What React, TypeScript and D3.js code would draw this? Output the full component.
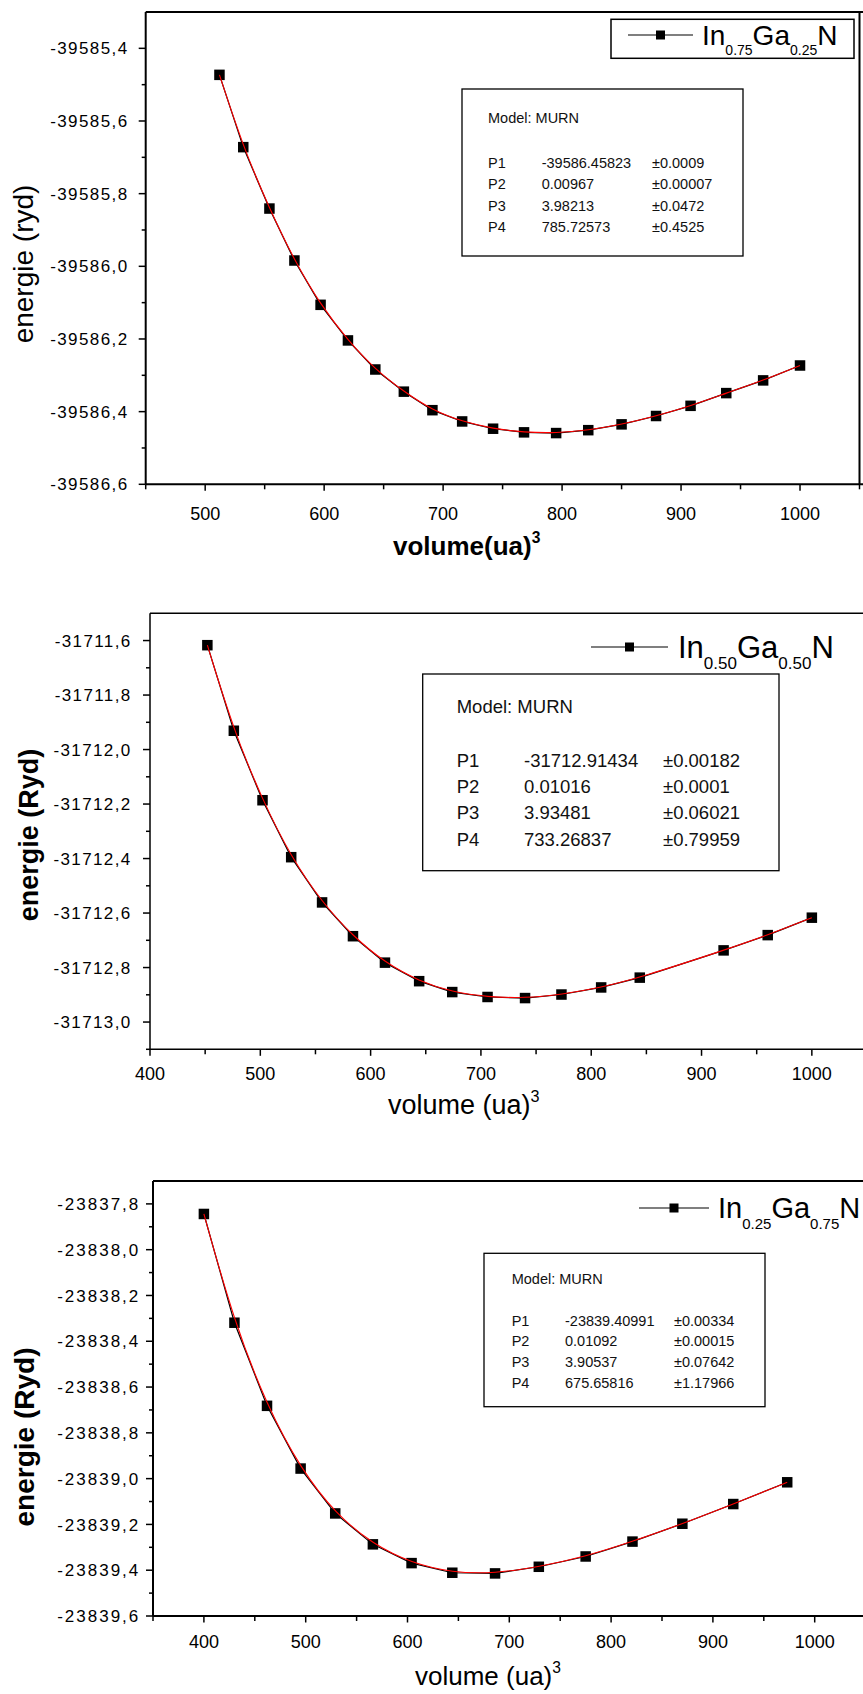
import React from "react";
import * as d3 from "d3";

// ---------- data ----------
const vol075 = [512, 532, 554, 575, 597, 620, 643, 667, 691, 716, 742, 768, 795, 822, 850, 879, 908, 938, 969, 1000];
const en075 = [-39585.473, -39585.672, -39585.841, -39585.984, -39586.106, -39586.204, -39586.284, -39586.345, -39586.396, -39586.427, -39586.447, -39586.457, -39586.459, -39586.451, -39586.435, -39586.412, -39586.384, -39586.349, -39586.314, -39586.273];

const vol050 = [452, 476, 502, 528, 556, 584, 613, 644, 674, 706, 740, 773, 809, 844, 920, 960, 1000];
const en050 = [-31711.617, -31711.931, -31712.186, -31712.395, -31712.561, -31712.685, -31712.782, -31712.850, -31712.890, -31712.908, -31712.912, -31712.899, -31712.873, -31712.837, -31712.737, -31712.681, -31712.617];

const vol025 = [400, 430, 462, 495, 529, 566, 604, 644, 686, 729, 775, 821, 870, 920, 973];
const en025 = [-23837.844, -23838.319, -23838.682, -23838.956, -23839.152, -23839.287, -23839.369, -23839.411, -23839.414, -23839.385, -23839.340, -23839.275, -23839.197, -23839.111, -23839.016];

const xTicks1 = [500, 600, 700, 800, 900, 1000];
const xMinor1 = [450, 550, 650, 750, 850, 950, 1050];
const yTicks1 = [-39586.6, -39586.4, -39586.2, -39586.0, -39585.8, -39585.6, -39585.4];
const yMinor1 = [-39586.5, -39586.3, -39586.1, -39585.9, -39585.7, -39585.5];

const xTicks2 = [400, 500, 600, 700, 800, 900, 1000];
const xMinor2 = [450, 550, 650, 750, 850, 950, 1050];
const yTicks2 = [-31713.0, -31712.8, -31712.6, -31712.4, -31712.2, -31712.0, -31711.8, -31711.6];
const yMinor2 = [-31713.1, -31712.9, -31712.7, -31712.5, -31712.3, -31712.1, -31711.9, -31711.7];

const xTicks3 = [400, 500, 600, 700, 800, 900, 1000];
const xMinor3 = [350, 450, 550, 650, 750, 850, 950, 1050];
const yTicks3 = [-23839.6, -23839.4, -23839.2, -23839.0, -23838.8, -23838.6, -23838.4, -23838.2, -23838.0, -23837.8];
const yMinor3 = [-23839.5, -23839.3, -23839.1, -23838.9, -23838.7, -23838.5, -23838.3, -23838.1, -23837.9];

const params075 = [
  ["P1", "-39586.45823", "\u00b10.0009"],
  ["P2", "0.00967", "\u00b10.00007"],
  ["P3", "3.98213", "\u00b10.0472"],
  ["P4", "785.72573", "\u00b10.4525"],
];
const params050 = [
  ["P1", "-31712.91434", "\u00b10.00182"],
  ["P2", "0.01016", "\u00b10.0001"],
  ["P3", "3.93481", "\u00b10.06021"],
  ["P4", "733.26837", "\u00b10.79959"],
];
const params025 = [
  ["P1", "-23839.40991", "\u00b10.00334"],
  ["P2", "0.01092", "\u00b10.00015"],
  ["P3", "3.90537", "\u00b10.07642"],
  ["P4", "675.65816", "\u00b11.17966"],
];

const legendSubs075 = ["0.75", "0.25"];
const legendSubs050 = ["0.50", "0.50"];
const legendSubs025 = ["0.25", "0.75"];

// ---------- layout ----------
const FONT = "'Liberation Sans', Arial, Helvetica, sans-serif";
const locale = d3.formatLocale({ decimal: ",", thousands: "", grouping: [3], currency: ["", ""], minus: "-" });
const yFmt = locale.format(".1f");

const panels = [
  {
    xs: vol075, ys: en075,
    xDomain: [450, 1050], xRange: [145.7, 859.5],
    yDomain: [-39586.6, -39585.3], yRange: [484.3, 12],
    xTicks: xTicks1, xMinor: xMinor1, yTicks: yTicks1, yMinor: yMinor1,
    axisW: 2, rightBorder: true,
    yLabelRight: 128.5, yLabelSize: 17, yLabelSpacing: 1.4,
    xLabelOffset: 35.7, xLabelSize: 18,
    yTitle: "energie (ryd)", yTitleBold: false, yTitleX: 33, yTitleY: 264, yTitleSize: 28,
    xTitle: "volume(ua)", xTitleBold: true, xTitleX: 393, xTitleY: 555, xTitleSize: 26,
    legend: { box: [611, 19.3, 243, 39], lineX: [628, 693], y: 35, textX: 702, subs: legendSubs075, main: 28, sub: 14, drop: 10 },
    model: { box: [462, 89, 281, 167], cols: [488, 541.7, 652], modelY: 123, rows: [168, 189.3, 211, 232.3], size: 14.5 },
    params: params075,
  },
  {
    xs: vol050, ys: en050,
    xDomain: [400, 1050], xRange: [150, 867],
    yDomain: [-31713.1, -31711.5], yRange: [1049.3, 613.3],
    xTicks: xTicks2, xMinor: xMinor2, yTicks: yTicks2, yMinor: yMinor2,
    axisW: 1.5, rightBorder: false,
    yLabelRight: 131.7, yLabelSize: 17, yLabelSpacing: 1.4,
    xLabelOffset: 30.7, xLabelSize: 18,
    yTitle: "energie (Ryd)", yTitleBold: true, yTitleX: 38, yTitleY: 835, yTitleSize: 27,
    xTitle: "volume (ua)", xTitleBold: false, xTitleX: 388, xTitleY: 1114, xTitleSize: 27,
    legend: { box: null, lineX: [591, 668], y: 647, textX: 678, subs: legendSubs050, main: 31, sub: 17, drop: 11 },
    model: { box: [422.7, 674, 356.3, 196.7], cols: [456.7, 524, 663], modelY: 713, rows: [767, 793, 819, 846], size: 18.5 },
    params: params050,
  },
  {
    xs: vol025, ys: en025,
    xDomain: [350, 1050], xRange: [153, 865.6],
    yDomain: [-23839.6, -23837.7], yRange: [1616, 1181],
    xTicks: xTicks3, xMinor: xMinor3, yTicks: yTicks3, yMinor: yMinor3,
    axisW: 2, rightBorder: false,
    yLabelRight: 140.3, yLabelSize: 17, yLabelSpacing: 2,
    xLabelOffset: 32, xLabelSize: 18,
    yTitle: "energie (Ryd)", yTitleBold: true, yTitleX: 34, yTitleY: 1437, yTitleSize: 28,
    xTitle: "volume (ua)", xTitleBold: false, xTitleX: 415, xTitleY: 1685, xTitleSize: 26,
    legend: { box: null, lineX: [639, 709], y: 1208, textX: 718, subs: legendSubs025, main: 29, sub: 15, drop: 11 },
    model: { box: [484, 1253.3, 281, 153.4], cols: [511.7, 565, 674], modelY: 1284, rows: [1325.7, 1346.3, 1367, 1387.7], size: 14.5 },
    params: params025,
  },
];

function Panel({ p }: { p: any }) {
  const x = d3.scaleLinear().domain(p.xDomain).range(p.xRange);
  const y = d3.scaleLinear().domain(p.yDomain).range(p.yRange);
  const pts: [number, number][] = p.xs.map((v: number, i: number) => [v, p.ys[i]]);
  const line = d3.line<[number, number]>().x((d) => x(d[0])).y((d) => y(d[1]));
  const fit = d3.line<[number, number]>().curve(d3.curveBasis).x((d) => x(d[0])).y((d) => y(d[1]));
  const [x0, x1] = p.xRange;
  const [yb, yt] = p.yRange;
  const ms = 10.5;
  const lg = p.legend;
  const md = p.model;
  return (
    <g fontFamily={FONT}>
      {/* frame */}
      <line x1={x0} x2={x1 + 5} y1={yt} y2={yt} stroke="#000" strokeWidth={p.axisW} />
      {p.rightBorder && <line x1={x1} x2={x1} y1={yt} y2={yb} stroke="#000" strokeWidth={p.axisW} />}
      <line x1={x0} x2={x0} y1={yt} y2={yb} stroke="#000" strokeWidth={p.axisW} />
      <line x1={x0} x2={x1 + 5} y1={yb} y2={yb} stroke="#000" strokeWidth={p.axisW} />
      {/* y ticks */}
      {p.yTicks.map((t: number) => (
        <g key={"yt" + t}>
          <line x1={x0 - 7} x2={x0} y1={y(t)} y2={y(t)} stroke="#000" strokeWidth={1.5} />
          <text x={p.yLabelRight} y={y(t)} dy="0.36em" textAnchor="end" fontSize={p.yLabelSize} letterSpacing={p.yLabelSpacing}>
            {yFmt(t)}
          </text>
        </g>
      ))}
      {p.yMinor.map((t: number) => (
        <line key={"ym" + t} x1={x0 - 4} x2={x0} y1={y(t)} y2={y(t)} stroke="#000" strokeWidth={1.5} />
      ))}
      {/* x ticks */}
      {p.xTicks.map((t: number) => (
        <g key={"xt" + t}>
          <line x1={x(t)} x2={x(t)} y1={yb} y2={yb + 6.5} stroke="#000" strokeWidth={1.5} />
          <text x={x(t)} y={yb + p.xLabelOffset} textAnchor="middle" fontSize={p.xLabelSize}>
            {t}
          </text>
        </g>
      ))}
      {p.xMinor.map((t: number) => (
        <line key={"xm" + t} x1={x(t)} x2={x(t)} y1={yb} y2={yb + 5} stroke="#000" strokeWidth={1.5} />
      ))}
      {/* titles */}
      <text
        transform={`translate(${p.yTitleX},${p.yTitleY}) rotate(-90)`}
        textAnchor="middle"
        fontSize={p.yTitleSize}
        fontWeight={p.yTitleBold ? "bold" : "normal"}
      >
        {p.yTitle}
      </text>
      <text x={p.xTitleX} y={p.xTitleY} fontSize={p.xTitleSize} fontWeight={p.xTitleBold ? "bold" : "normal"}>
        {p.xTitle}
        <tspan fontSize={p.xTitleSize * 0.6} dy={-p.xTitleSize * 0.45}>3</tspan>
      </text>
      {/* data */}
      <path d={line(pts) || ""} fill="none" stroke="#000" strokeWidth={1.2} />
      {pts.map((d, i) => (
        <rect key={"m" + i} x={x(d[0]) - ms / 2} y={y(d[1]) - ms / 2} width={ms} height={ms} fill="#000" />
      ))}
      <path d={fit(pts) || ""} fill="none" stroke="#ff0000" strokeWidth={1.1} />
      {/* legend */}
      {lg.box && (
        <rect x={lg.box[0]} y={lg.box[1]} width={lg.box[2]} height={lg.box[3]} fill="#fff" stroke="#000" strokeWidth={1.5} />
      )}
      <line x1={lg.lineX[0]} x2={lg.lineX[1]} y1={lg.y} y2={lg.y} stroke="#000" strokeWidth={1.2} />
      <rect x={(lg.lineX[0] + lg.lineX[1]) / 2 - 4.5} y={lg.y - 4.5} width={9} height={9} fill="#000" />
      <text x={lg.textX} y={lg.y + lg.main * 0.36} fontSize={lg.main}>
        In
        <tspan fontSize={lg.sub} dy={lg.drop}>{lg.subs[0]}</tspan>
        <tspan dy={-lg.drop}>Ga</tspan>
        <tspan fontSize={lg.sub} dy={lg.drop}>{lg.subs[1]}</tspan>
        <tspan dy={-lg.drop}>N</tspan>
      </text>
      {/* model box */}
      <rect x={md.box[0]} y={md.box[1]} width={md.box[2]} height={md.box[3]} fill="#fff" stroke="#000" strokeWidth={1.3} />
      <text x={md.cols[0]} y={md.modelY} fontSize={md.size} fill="#111">Model: MURN</text>
      {p.params.map((r: string[], i: number) => (
        <g key={"r" + i} fontSize={md.size} fill="#111">
          <text x={md.cols[0]} y={md.rows[i]}>{r[0]}</text>
          <text x={md.cols[1]} y={md.rows[i]}>{r[1]}</text>
          <text x={md.cols[2]} y={md.rows[i]}>{r[2]}</text>
        </g>
      ))}
    </g>
  );
}

export default function App() {
  return (
    <svg
      width={863}
      height={1694}
      viewBox="0 0 863 1694"
      style={{ position: "absolute", left: 0, top: 0, background: "#fff" }}
    >
      <rect x={0} y={0} width={863} height={1694} fill="#fff" />
      {panels.map((p, i) => (
        <Panel key={i} p={p} />
      ))}
    </svg>
  );
}
